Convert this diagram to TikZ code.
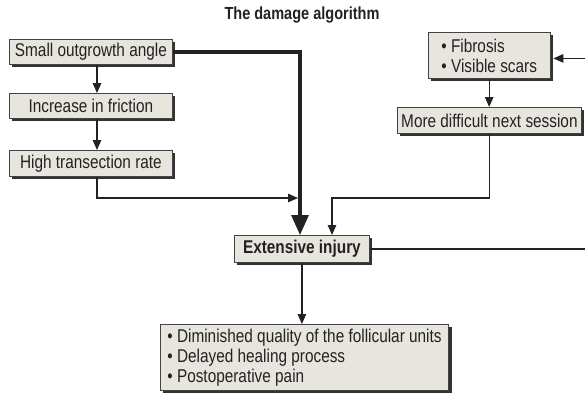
\documentclass[tikz,border=0pt]{standalone}
\usepackage{fontspec}
\setmainfont{Liberation Sans}[FakeStretch=0.83]
\usetikzlibrary{arrows.meta,shadows}
\definecolor{boxfill}{HTML}{E7E5DE}
\definecolor{ink}{HTML}{222222}
\newcommand{\fsz}{\fontsize{18.5}{20}\selectfont}
\newcommand{\ttlsz}{\fontsize{17.5}{19}\selectfont\bfseries}
\tikzset{
  box/.style={draw=ink!85, line width=0.8pt, fill=boxfill, text=ink,
    general shadow={fill=black!80, shadow xshift=3pt, shadow yshift=-3pt},
    anchor=north west, inner sep=0pt, font=\fsz},
  arr/.style={draw=ink, line width=1.2pt, -{Triangle[length=10pt,width=8.5pt]}},
  bigarr/.style={draw=ink, line width=3.2pt, -{Triangle[length=20pt,width=17pt]}},
  plain/.style={draw=ink, line width=1.2pt}
}
\begin{document}
\begin{tikzpicture}[x=1pt,y=-1pt]
\useasboundingbox (0,0) rectangle (585,394);
\node[font=\ttlsz, text=ink] (title) at (302,15) {The damage algorithm};

\node[box, minimum width=163pt, minimum height=25pt] (t1) at (9,39) {Small outgrowth angle};
\node[box, minimum width=163pt, minimum height=25pt] (t2) at (9,93) {Increase in friction};
\node[box, minimum width=163pt, minimum height=26pt] (t3) at (9,150) {High transection rate};

\node[box, minimum width=135pt, minimum height=27pt, font=\fsz\bfseries] (inj) at (234,235) {Extensive injury};

\node[box, minimum width=121pt, minimum height=46pt, align=left, inner xsep=13pt] (fib) at (428,32) {\textbullet\ Fibrosis\\\textbullet\ Visible scars};
\node[box, minimum width=184pt, minimum height=26pt] (ses) at (397,107) {More difficult next session};

\node[box, minimum width=282pt, minimum height=66pt, align=left, inner xsep=7pt] (bot) at (160,324) {\textbullet\ Diminished quality of the follicular units\\\textbullet\ Delayed healing process\\\textbullet\ Postoperative pain};

\coordinate (col) at (97,0);
\coordinate (thx) at (300,0);
\coordinate (j1) at (298,198);
\coordinate (m2) at (332,198);
\coordinate (edge) at (592,0);

\draw[arr] (t1.south -| col) -- (t2.north -| col);
\draw[arr] (t2.south -| col) -- (t3.north -| col);
\draw[arr] (t3.south -| col) |- (j1);
\draw[bigarr] (t1.east) -| (inj.north -| thx);
\draw[arr] (fib.south) -- (ses.north -| fib.south);
\draw[arr] (ses.south -| fib.south) |- (m2) -- (inj.north -| m2);
\draw[arr] (inj.south) -- (bot.north -| inj.south);
\draw[arr] (inj.east) -| (edge) |- ([xshift=3pt,yshift=-3pt]fib.east);
\end{tikzpicture}
\end{document}
